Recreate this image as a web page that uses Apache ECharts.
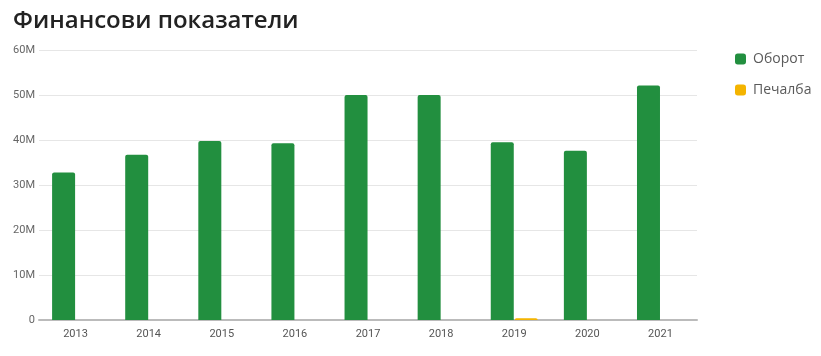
<!DOCTYPE html>
<html>
<head>
<meta charset="utf-8">
<script src="https://cdn.jsdelivr.net/npm/echarts@6/dist/echarts.min.js"></script>
<style>
html,body{margin:0;padding:0;background:#fff;}
#chart{width:821px;height:356px;}
</style>
</head>
<body>
<div id="chart"></div>
<script>
var years = ['2013','2014','2015','2016','2017','2018','2019','2020','2021'];
var turnover = [32800000, 36700000, 39800000, 39300000, 50000000, 50000000, 39500000, 37600000, 52100000];
var profit = [0, 0, 0, 0, 0, 0, 400000, 0, 0];
var yTicks = [0, 10000000, 20000000, 30000000, 40000000, 50000000, 60000000];

var chart = echarts.init(document.getElementById('chart'));
chart.setOption({
  animation: false,
  title: {
    text: 'Финансови показатели',
    left: 8, top: 4,
    textStyle: {fontFamily: 'Open Sans', fontSize: 24, fontWeight: 600, color: '#222'}
  },
  legend: {
    orient: 'vertical',
    left: 735, top: 52, padding: 0,
    itemWidth: 11, itemHeight: 11, itemGap: 17,
    icon: 'roundRect',
    textStyle: {fontFamily: 'Open Sans', fontSize: 14, color: '#5a5a5a', padding: [0,0,0,2]},
    data: ['Оборот', 'Печалба']
  },
  grid: {left: 39, right: 124, top: 50, bottom: 36},
  xAxis: {
    type: 'category',
    data: years,
    axisTick: {show: false},
    axisLine: {lineStyle: {color: '#bbb', width: 2}},
    axisLabel: {fontFamily: 'Roboto', fontSize: 11, color: '#555', margin: 9}
  },
  yAxis: {
    type: 'value',
    min: yTicks[0], max: yTicks[yTicks.length-1], interval: 10000000,
    axisLabel: {
      fontFamily: 'Roboto', fontSize: 11, color: '#666', margin: 4,
      formatter: function(v){ return v === 0 ? '0' : (v/1000000) + 'M'; }
    },
    splitLine: {lineStyle: {color: '#e6e6e6'}}
  },
  series: [
    {name: 'Оборот', type: 'bar', data: turnover, barWidth: 23, barGap: '4%',
     itemStyle: {color: '#228f3f', borderRadius: [2,2,0,0]}},
    {name: 'Печалба', type: 'bar', data: profit, barWidth: 23,
     itemStyle: {color: '#f4b400', borderRadius: [2,2,0,0]}}
  ]
});
</script>
</body>
</html>
